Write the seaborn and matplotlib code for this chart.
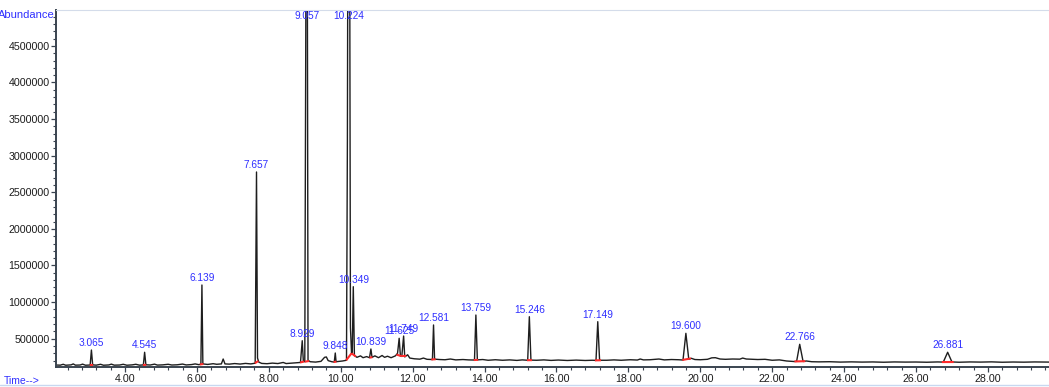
#!/usr/bin/env python3
"""
GC-MS total ion chromatogram (abundance vs. retention time)
"""

import matplotlib
matplotlib.use("Agg")
import matplotlib.pyplot as plt
from matplotlib.ticker import MultipleLocator, FormatStrFormatter
import seaborn as sns
import pandas as pd
import numpy as np

# labelled peaks (retention time, min)
peak_labels = ["3.065", "4.545", "6.139", "7.657", "8.929", "9.057", "9.848",
               "10.224", "10.349", "10.839", "11.625", "11.749", "12.581",
               "13.759", "15.246", "17.149", "19.600", "22.766", "26.881"]
peak_times = [float(s) for s in peak_labels]

# integration start / end of each labelled peak (min)
int_start = [3.02, 4.50, 6.08, 7.61, 8.87, 9.00, 9.80, 10.15, 10.30, 10.80,
             11.55, 11.68, 12.52, 13.70, 15.18, 17.07, 19.50, 22.62, 26.72]
int_end = [3.11, 4.59, 6.18, 7.71, 8.98, 9.12, 9.88, 10.30, 10.42, 10.88,
           11.68, 11.82, 12.64, 13.82, 15.32, 17.24, 19.74, 22.92, 27.05]

# chromatogram trace: time (min), abundance (x1000)
trace_time = [
    2.08, 2.20, 2.28, 2.35, 2.50, 2.56, 2.62, 2.75, 2.82, 2.90,
    3.03, 3.065, 3.10, 3.20, 3.32, 3.40, 3.55, 3.62, 3.70, 3.85,
    3.95, 4.05, 4.20, 4.30, 4.40, 4.51, 4.545, 4.58, 4.70, 4.82,
    4.90, 5.05, 5.20, 5.30, 5.45, 5.60, 5.70, 5.85, 5.95, 6.05,
    6.11, 6.139, 6.165, 6.30, 6.45, 6.55, 6.68, 6.73, 6.78, 6.90,
    7.05, 7.20, 7.35, 7.50, 7.62, 7.657, 7.685, 7.72, 7.80, 7.95,
    8.10, 8.25, 8.40, 8.48, 8.60, 8.75, 8.88, 8.929, 8.96, 9.00,
    9.057, 9.09, 9.15, 9.30, 9.45, 9.55, 9.60, 9.65, 9.75, 9.82,
    9.848, 9.87, 9.95, 10.05, 10.16, 10.185, 10.224, 10.27, 10.30, 10.32,
    10.349, 10.38, 10.45, 10.55, 10.62, 10.72, 10.80, 10.839, 10.87, 10.95,
    11.05, 11.15, 11.22, 11.30, 11.40, 11.52, 11.58, 11.625, 11.66, 11.70,
    11.749, 11.78, 11.86, 11.92, 12.05, 12.20, 12.30, 12.40, 12.55, 12.581,
    12.61, 12.75, 12.90, 13.05, 13.20, 13.40, 13.55, 13.72, 13.759, 13.80,
    13.95, 14.10, 14.30, 14.50, 14.70, 14.90, 15.05, 15.20, 15.246, 15.29,
    15.45, 15.65, 15.85, 16.05, 16.30, 16.55, 16.80, 17.00, 17.10, 17.149,
    17.20, 17.40, 17.60, 17.80, 18.05, 18.25, 18.33, 18.42, 18.60, 18.85,
    19.00, 19.20, 19.40, 19.52, 19.600, 19.68, 19.75, 19.85, 20.00, 20.20,
    20.32, 20.42, 20.55, 20.70, 20.90, 21.10, 21.18, 21.28, 21.45, 21.60,
    21.80, 22.00, 22.20, 22.40, 22.60, 22.68, 22.766, 22.86, 22.95, 23.10,
    23.30, 23.60, 23.90, 24.20, 24.50, 24.80, 25.10, 25.40, 25.70, 26.00,
    26.30, 26.60, 26.76, 26.881, 27.00, 27.20, 27.50, 27.80, 28.10, 28.40,
    28.70, 29.00, 29.30, 29.70,
]
trace_abund = [
    140, 138, 150, 137, 142, 155, 138, 140, 152, 137,
    140, 345, 142, 138, 150, 137, 141, 152, 138, 140,
    150, 137, 142, 150, 138, 141, 314, 143, 140, 152,
    139, 142, 150, 140, 143, 153, 141, 146, 155, 145,
    150, 1233, 155, 148, 158, 150, 155, 222, 155, 152,
    160, 153, 162, 155, 165, 2777, 235, 180, 162, 158,
    166, 160, 175, 160, 165, 170, 175, 472, 190, 185,
    9500, 205, 185, 180, 190, 245, 250, 200, 185, 180,
    304, 185, 190, 195, 205, 3200, 12000, 650, 300, 310,
    1210, 270, 245, 265, 240, 255, 240, 359, 245, 265,
    240, 270, 245, 260, 240, 265, 300, 505, 260, 265,
    536, 250, 280, 235, 225, 220, 235, 218, 215, 687,
    220, 215, 212, 222, 210, 215, 210, 208, 823, 210,
    215, 205, 212, 205, 210, 203, 210, 205, 800, 207,
    205, 210, 203, 208, 202, 207, 202, 205, 203, 732,
    205, 205, 210, 205, 212, 208, 222, 210, 212, 222,
    210, 215, 212, 208, 573, 220, 232, 215, 212, 218,
    238, 240, 222, 218, 222, 220, 235, 222, 218, 215,
    218, 205, 210, 195, 188, 190, 423, 188, 195, 185,
    183, 185, 180, 183, 180, 182, 178, 182, 180, 181,
    178, 182, 180, 314, 182, 178, 182, 180, 183, 178,
    181, 179, 182, 180,
]

BLUE = "#2f2fff"
DARK = "#3a4450"

sns.set_style("white")
plt.rcParams["font.family"] = ["Liberation Sans", "DejaVu Sans"]

df = pd.DataFrame({"time": trace_time,
                   "abundance": np.array(trace_abund) * 1000.0})

fig = plt.figure(figsize=(10.49, 3.87), dpi=100)
ax = fig.add_axes([56 / 1049, 1 - 366.7 / 387, (1049 - 56) / 1049, (366.7 - 10) / 387])

sns.lineplot(data=df, x="time", y="abundance", ax=ax, sort=False,
             estimator=None, color="#1e1e1e", linewidth=1.0)

ymin, ymax = 117000, 4990000
ax.set_xlim(2.08, 29.7)
ax.set_ylim(ymin, ymax)

# integration markers
for s, e in zip(int_start, int_end):
    ys = np.interp([s, e], df["time"], df["abundance"])
    ax.plot([s, e], ys, color="#ff2a2a", linewidth=1.5, solid_capstyle="butt")

# peak labels
for lab, t in zip(peak_labels, peak_times):
    h = np.interp(t, df["time"], df["abundance"])
    if h > ymax:
        ax.annotate(lab, xy=(t, ymax), xytext=(0, -1), textcoords="offset points",
                    ha="center", va="top", fontsize=7.3, color=BLUE)
    else:
        ax.annotate(lab, xy=(t, h), xytext=(0, 1.5), textcoords="offset points",
                    ha="center", va="bottom", fontsize=7.3, color=BLUE)

# axes styling
ax.set_xlabel("")
ax.set_ylabel("")
ax.xaxis.set_major_locator(MultipleLocator(2))
ax.xaxis.set_minor_locator(MultipleLocator(0.4))
ax.xaxis.set_major_formatter(FormatStrFormatter("%.2f"))
ax.yaxis.set_major_locator(MultipleLocator(500000))
ax.yaxis.set_minor_locator(MultipleLocator(100000))
ax.yaxis.set_major_formatter(FormatStrFormatter("%d"))
ax.tick_params(axis="both", which="major", direction="out", length=3.5, width=0.9,
               color=DARK, labelsize=7.7, labelcolor="#1c1c1c", pad=1)
ax.tick_params(axis="both", which="minor", direction="out", length=2.2, width=0.8,
               color=DARK)
ax.tick_params(axis="x", which="major", pad=1.5)
ax.tick_params(left=True, bottom=True, which="both")

for side in ["left", "bottom"]:
    ax.spines[side].set_color(DARK)
    ax.spines[side].set_linewidth(1.4)
ax.spines["top"].set_color("#d4dcea")
ax.spines["top"].set_linewidth(0.8)
ax.spines["right"].set_visible(False)

# corner captions and frame line
fig.text(55 / 1049, 1 - 15.5 / 387, "Abundance", ha="right", va="center",
         fontsize=8, color=BLUE)
fig.text(4 / 1049, 1 - 381 / 387, "Time-->", ha="left", va="center",
         fontsize=7.5, color=BLUE)
fig.add_artist(plt.Line2D([0, 1], [1 - 385 / 387] * 2, color="#c8d8f0",
                          linewidth=1.0, transform=fig.transFigure))

fig.savefig("out.png", dpi=100)
plt.close(fig)
